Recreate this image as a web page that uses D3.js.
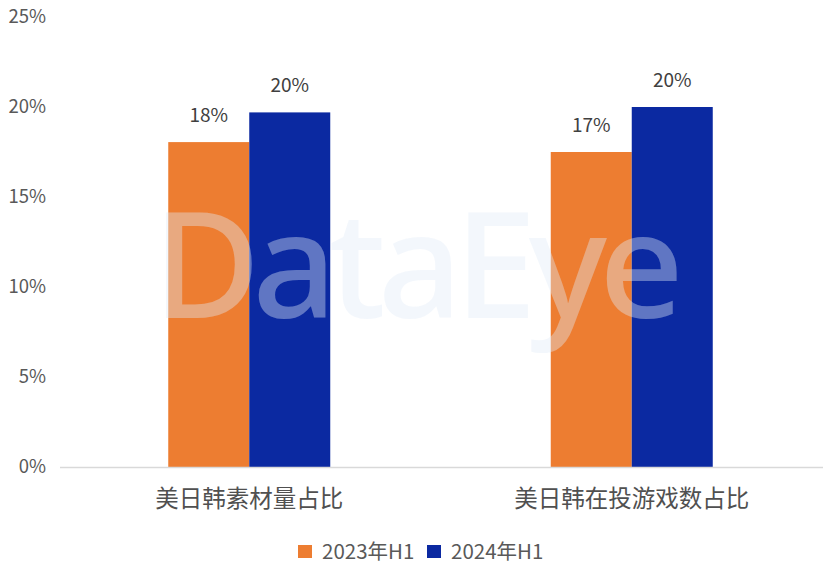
<!DOCTYPE html>
<html>
<head>
<meta charset="utf-8">
<script src="https://cdn.jsdelivr.net/npm/d3@7"></script>
<style>
  body { margin: 0; background: #fff; }
  svg { display: block; font-family: "Noto Sans CJK SC", "Noto Sans", sans-serif; }
</style>
</head>
<body>
<div id="chart"></div>
<script>
// data
const categories = ["美日韩素材量占比", "美日韩在投游戏数占比"];
const series = ["2023年H1", "2024年H1"];
const values2023 = [18.05, 17.5];
const values2024 = [19.7, 20.0];
const labels2023 = ["18%", "17%"];
const labels2024 = ["20%", "20%"];
const yTicks = [0, 5, 10, 15, 20, 25];
const colors = ["#ED7D31", "#0B29A1"];

const width = 823, height = 564;
const margin = {top: 17, right: 0, bottom: 97, left: 58};

const svg = d3.select("#chart").append("svg")
  .attr("width", width)
  .attr("height", height);

const y = d3.scaleLinear()
  .domain([0, 25])
  .range([height - margin.bottom, margin.top]);

const x0 = d3.scaleBand()
  .domain(categories)
  .range([margin.left, width - margin.right])
  .padding(0);

const barW = 81;
const x1 = d3.scaleBand()
  .domain(series)
  .range([x0.bandwidth() / 2 - barW, x0.bandwidth() / 2 + barW])
  .padding(0);

const data = categories.map((c, i) => ({
  cat: c,
  vals: [
    {s: series[0], v: values2023[i], label: labels2023[i]},
    {s: series[1], v: values2024[i], label: labels2024[i]}
  ]
}));

// y axis labels (no line)
svg.append("g")
  .attr("transform", `translate(${margin.left - 9},0)`)
  .call(d3.axisLeft(y).tickValues(yTicks).tickSize(0).tickFormat(d => d + "%"))
  .call(g => g.select(".domain").remove())
  .call(g => g.selectAll("text")
    .attr("fill", "#595959")
    .attr("font-size", 18.5)
    .attr("font-family", "'Noto Sans CJK SC', 'Noto Sans', sans-serif"));

// bars
const groups = svg.append("g")
  .selectAll("g")
  .data(data)
  .join("g")
  .attr("transform", d => `translate(${x0(d.cat)},0)`);

groups.selectAll("rect")
  .data(d => d.vals)
  .join("rect")
  .attr("x", d => x1(d.s))
  .attr("y", d => y(d.v))
  .attr("width", x1.bandwidth())
  .attr("height", d => y(0) - y(d.v))
  .attr("fill", (d, i) => colors[i]);

groups.selectAll("text.val")
  .data(d => d.vals)
  .join("text")
  .attr("class", "val")
  .attr("x", d => x1(d.s) + x1.bandwidth() / 2)
  .attr("y", d => y(d.v) - 20)
  .attr("text-anchor", "middle")
  .attr("fill", "#404040")
  .attr("font-size", 19)
  .text(d => d.label);

// watermark
svg.append("text")
  .attr("x", 414)
  .attr("y", 318)
  .attr("text-anchor", "middle")
  .attr("font-family", "'Noto Sans', sans-serif")
  .attr("font-size", 148)
  .attr("font-weight", 500)
  .attr("letter-spacing", -8)
  .attr("fill", "rgb(225,236,248)")
  .attr("fill-opacity", 0.4)
  .text("DataEye");

// x axis
svg.append("line")
  .attr("x1", margin.left + 2)
  .attr("x2", width)
  .attr("y1", y(0) + 0.5)
  .attr("y2", y(0) + 0.5)
  .attr("stroke", "#d9d9d9")
  .attr("stroke-width", 1.5);

svg.append("g")
  .selectAll("text")
  .data(categories)
  .join("text")
  .attr("x", d => x0(d) + x0.bandwidth() / 2)
  .attr("y", 507)
  .attr("text-anchor", "middle")
  .attr("fill", "#505050")
  .attr("font-size", 23.5)
  .text(d => d);

// legend
const legend = svg.append("g");
const legX = [298, 427];
series.forEach((s, i) => {
  legend.append("rect")
    .attr("x", legX[i])
    .attr("y", 545)
    .attr("width", 14)
    .attr("height", 13)
    .attr("fill", colors[i]);
  legend.append("text")
    .attr("x", legX[i] + 24)
    .attr("y", 559)
    .attr("fill", "#595959")
    .attr("font-size", 20.5)
    .text(s);
});
</script>
</body>
</html>
